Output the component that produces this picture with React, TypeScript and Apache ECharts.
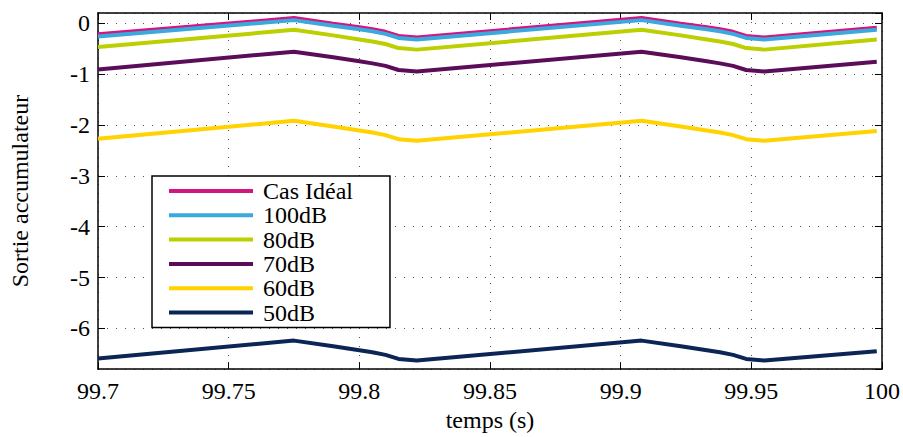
import React, { useEffect, useRef } from "react";
import * as echarts from "echarts";

const timeValues = [99.7, 99.775, 99.79, 99.8, 99.805, 99.81, 99.815, 99.822, 99.908, 99.923, 99.933, 99.938, 99.943, 99.948, 99.955, 99.998];

const casIdeal = [-0.22, 0.1, -0.01, -0.08, -0.12, -0.17, -0.25, -0.28, 0.1, -0.01, -0.08, -0.12, -0.17, -0.25, -0.28, -0.09];
const db100 = [-0.26, 0.06, -0.05, -0.12, -0.16, -0.21, -0.29, -0.32, 0.06, -0.05, -0.12, -0.16, -0.21, -0.29, -0.32, -0.13];
const db80 = [-0.47, -0.13, -0.24, -0.32, -0.36, -0.41, -0.49, -0.52, -0.13, -0.24, -0.32, -0.36, -0.41, -0.49, -0.52, -0.32];
const db70 = [-0.91, -0.56, -0.67, -0.75, -0.79, -0.84, -0.92, -0.95, -0.56, -0.67, -0.75, -0.79, -0.84, -0.92, -0.95, -0.76];
const db60 = [-2.27, -1.92, -2.03, -2.11, -2.15, -2.2, -2.28, -2.31, -1.92, -2.03, -2.11, -2.15, -2.2, -2.28, -2.31, -2.12];
const db50 = [-6.59, -6.24, -6.35, -6.43, -6.47, -6.52, -6.6, -6.63, -6.24, -6.35, -6.43, -6.47, -6.52, -6.6, -6.63, -6.45];

const seriesNames = ["Cas Idéal", "100dB", "80dB", "70dB", "60dB", "50dB"];
const seriesValues = [casIdeal, db100, db80, db70, db60, db50];
const seriesColors = ["#d4147f", "#3aaadc", "#bccf00", "#5b0d5a", "#ffd200", "#0b2557"];

const xMin = 99.7;
const xMax = 100;
const xInterval = 0.05;
const yMin = -6.8;
const yMax = 0.2;
const ySplitNumber = 7;

const FONT = "Liberation Serif";

export default function App() {
  const ref = useRef<HTMLDivElement>(null);
  useEffect(() => {
    if (!ref.current) return;
    const chart = echarts.init(ref.current, null, { renderer: "svg" });
    const axisLine = { show: true, onZero: false, lineStyle: { color: "#000", width: 1.5 } };
    const tick = { show: true, inside: true, length: 7, lineStyle: { color: "#000", width: 1 } };
    const split = { show: true, lineStyle: { color: "#555", width: 1, type: [1, 8] as any } };
    const label = { color: "#000", fontSize: 24, fontFamily: FONT };
    const isInt = (v: number) => Math.abs(v - Math.round(v)) < 1e-6;
    chart.setOption({
      animation: false,
      backgroundColor: "#fff",
      grid: { left: 97, right: 21, top: 13, bottom: 66, containLabel: false },
      legend: {
        show: true,
        orient: "vertical",
        left: 152,
        top: 176,
        icon: "rect",
        itemWidth: 84,
        itemHeight: 4,
        itemGap: 0.3,
        padding: [3, 37, 3, 17],
        borderColor: "#000",
        borderWidth: 1.5,
        backgroundColor: "#fff",
        selectedMode: false,
        textStyle: { color: "#000", fontSize: 24, fontFamily: FONT, lineHeight: 24, padding: [0, 0, 0, 5] },
        data: seriesNames,
      },
      xAxis: [
        {
          type: "value",
          position: "bottom",
          min: xMin,
          max: xMax,
          interval: xInterval,
          axisLine,
          axisTick: tick,
          splitLine: split,
          axisLabel: { ...label, margin: 10, formatter: (v: number) => String(+v.toFixed(2)) },
          name: "temps (s)",
          nameLocation: "middle",
          nameGap: 37,
          nameTextStyle: { ...label },
        },
        {
          type: "value",
          position: "top",
          min: xMin,
          max: xMax,
          interval: xInterval,
          axisLine,
          axisTick: tick,
          splitLine: { show: false },
          axisLabel: { show: false },
        },
      ],
      yAxis: [
        {
          type: "value",
          position: "left",
          min: yMin,
          max: yMax,
          splitNumber: ySplitNumber,
          axisLine,
          axisTick: tick,
          splitLine: split,
          axisLabel: {
            ...label,
            margin: 8,
            showMinLabel: false,
            showMaxLabel: false,
            formatter: (v: number) => (isInt(v) ? String(Math.round(v)) : ""),
          },
          name: "Sortie accumulateur",
          nameLocation: "middle",
          nameGap: 66,
          nameTextStyle: { ...label },
        },
        {
          type: "value",
          position: "right",
          min: yMin,
          max: yMax,
          splitNumber: ySplitNumber,
          axisLine,
          axisTick: tick,
          splitLine: { show: false },
          axisLabel: { show: false },
        },
      ],
      series: seriesNames.map((name, i) => ({
        name,
        type: "line",
        xAxisIndex: 0,
        yAxisIndex: 0,
        symbol: "none",
        showSymbol: false,
        color: seriesColors[i],
        itemStyle: { color: seriesColors[i] },
        lineStyle: { color: seriesColors[i], width: 4 },
        data: timeValues.map((t, j) => [t, seriesValues[i][j]]),
      })),
    });
    return () => chart.dispose();
  }, []);
  return <div ref={ref} style={{ position: "fixed", left: 0, top: 0, width: 903, height: 437 }} />;
}
